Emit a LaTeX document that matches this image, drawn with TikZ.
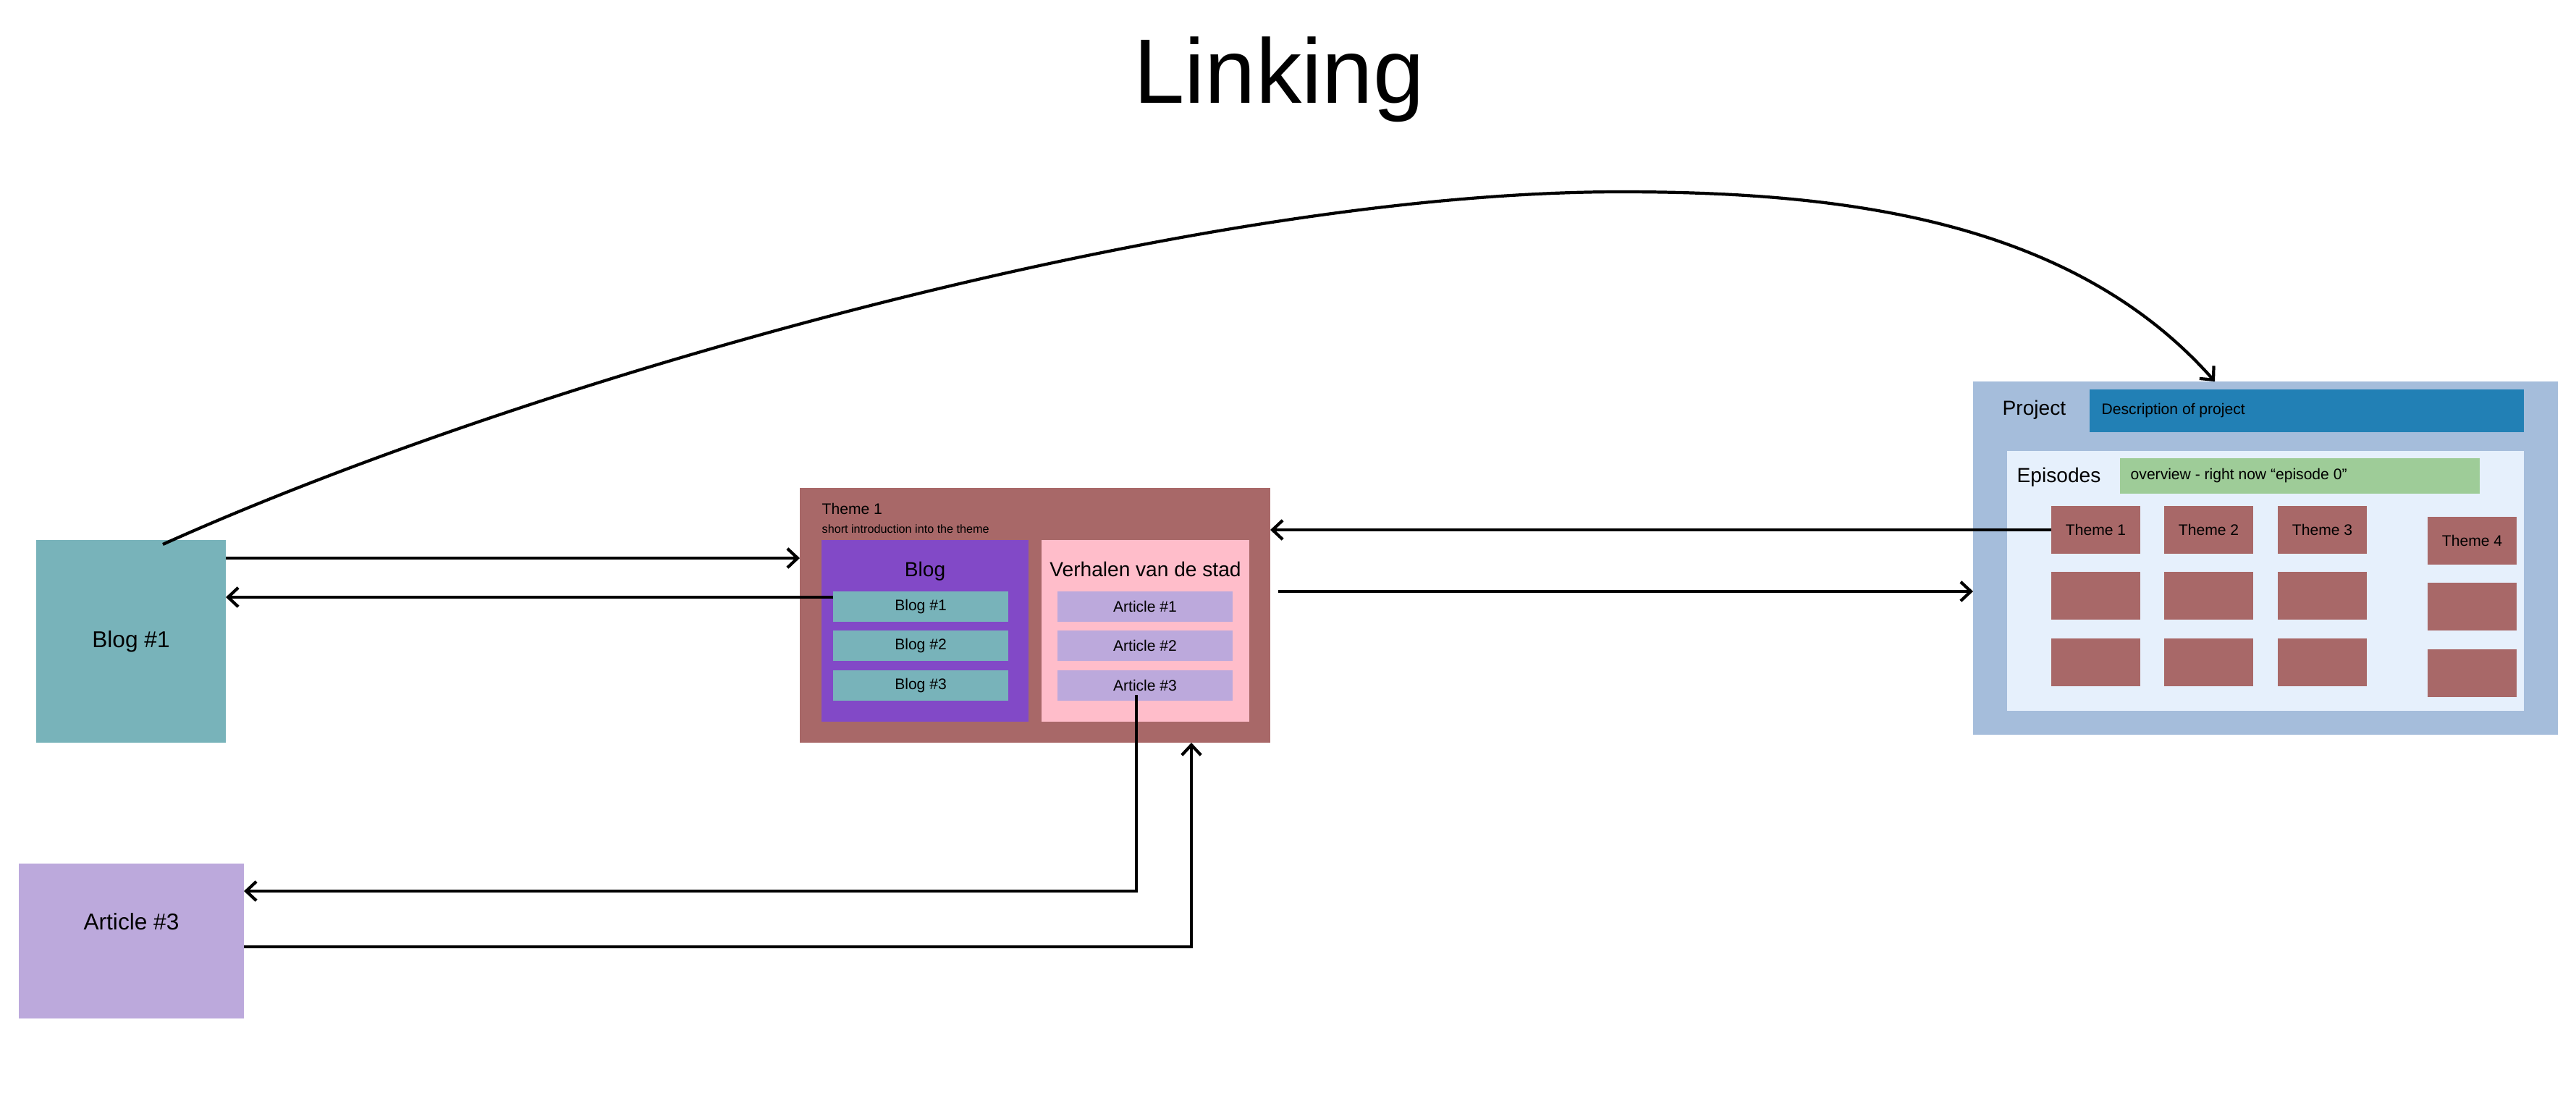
\documentclass[tikz,border=0pt]{standalone}
\usepackage{fontspec}
\setmainfont{Liberation Sans}
\usetikzlibrary{arrows.meta,calc}
\definecolor{tealbox}{RGB}{120,179,186}
\definecolor{lavbox}{RGB}{188,169,220}
\definecolor{maroonbox}{RGB}{168,104,104}
\definecolor{purplebox}{RGB}{130,73,199}
\definecolor{pinkbox}{RGB}{255,189,202}
\definecolor{projbox}{RGB}{165,189,219}
\definecolor{descbox}{RGB}{34,128,181}
\definecolor{epibox}{RGB}{230,240,252}
\definecolor{greenbox}{RGB}{158,204,152}
\newcommand\myfs[1]{\fontsize{#1}{#1}\selectfont}
\begin{document}
\begin{tikzpicture}[
  box/.style={draw=none, rectangle, inner sep=0pt, outer sep=0pt},
  arr/.style={line width=1.2pt, -{Straight Barb[length=4pt,width=7.5pt]}},
  item/.style={box, minimum width=2.42cm, minimum height=0.42cm, font=\myfs{6pt}},
  tile/.style={box, fill=maroonbox, minimum width=1.23cm, minimum height=0.66cm, font=\myfs{6pt}},
]
\useasboundingbox (0,0) rectangle (35.59,-15.20);
\fill[white] (0,0) rectangle (35.59,-15.20);

% title
\node[anchor=base, font=\myfs{36pt}] (title) at (17.67,-1.42) {Linking};

% left boxes
\node[box, fill=tealbox, minimum width=2.62cm, minimum height=2.80cm, font=\myfs{9pt}] (blogA) at (1.81,-8.86) {Blog \#1};
\node[box, fill=lavbox, minimum width=3.11cm, minimum height=2.14cm,
      label={[font=\myfs{9pt}, yshift=0.27cm]center:Article \#3}] (artA) at (1.815,-13.00) {};

% theme box
\node[box, fill=maroonbox, minimum width=6.50cm, minimum height=3.52cm] (theme) at (14.30,-8.50) {};
\node[anchor=base west, inner sep=0pt, font=\myfs{6pt}] (themeT) at (11.35,-7.10) {Theme 1};
\node[anchor=base west, inner sep=0pt, font=\myfs{4.6pt}] (themeS) at (11.35,-7.36) {short introduction into the theme};
\node[box, fill=purplebox, minimum width=2.86cm, minimum height=2.51cm] (blogP) at (12.78,-8.715) {};
\node[box, fill=pinkbox, minimum width=2.87cm, minimum height=2.51cm] (verP) at (15.825,-8.715) {};
\node[anchor=base, inner sep=0pt, font=\myfs{8pt}] (blogPT) at (12.78,-7.96) {Blog};
\node[anchor=base, inner sep=0pt, font=\myfs{8pt}] (verPT) at (15.825,-7.96) {Verhalen van de stad};
\node[item, fill=tealbox] (bi1) at (12.72,-8.38) {Blog \#1};
\node[item, fill=tealbox] (bi2) at (12.72,-8.92) {Blog \#2};
\node[item, fill=tealbox] (bi3) at (12.72,-9.47) {Blog \#3};
\node[item, fill=lavbox] (ai1) at (15.82,-8.38) {Article \#1};
\node[item, fill=lavbox] (ai2) at (15.82,-8.92) {Article \#2};
\node[item, fill=lavbox] (ai3) at (15.82,-9.47) {Article \#3};

% project box
\node[box, fill=projbox, minimum width=8.08cm, minimum height=4.88cm] (project) at (31.30,-7.71) {};
\node[box, fill=descbox, minimum width=6.00cm, minimum height=0.59cm] (desc) at (31.87,-5.675) {};
\node[anchor=west, inner sep=0pt, font=\myfs{8pt}] (projT) at (27.66,-5.66) {Project};
\node[anchor=west, inner sep=0pt, font=\myfs{6pt}] (descT) at (29.03,-5.675) {Description of project};
\node[box, fill=epibox, minimum width=7.14cm, minimum height=3.59cm] (epi) at (31.30,-8.025) {};
\node[box, fill=greenbox, minimum width=4.97cm, minimum height=0.49cm] (green) at (31.775,-6.575) {};
\node[anchor=west, inner sep=0pt, font=\myfs{8pt}] (epiT) at (27.86,-6.59) {Episodes};
\node[anchor=west, inner sep=0pt, font=\myfs{6pt}] (greenT) at (29.43,-6.575) {overview - right now “episode 0”};

\node[tile] (pt1) at (28.955,-7.32) {Theme 1};
\node[tile] (pt2) at (30.515,-7.32) {Theme 2};
\node[tile] (pt3) at (32.085,-7.32) {Theme 3};
\node[tile] (pt4) at (34.155,-7.465) {Theme 4};
\node[tile] (t21) at (28.955,-8.23) {};
\node[tile] (t22) at (30.515,-8.23) {};
\node[tile] (t23) at (32.085,-8.23) {};
\node[tile] (t24) at (34.155,-8.38) {};
\node[tile] (t31) at (28.955,-9.15) {};
\node[tile] (t32) at (30.515,-9.15) {};
\node[tile] (t33) at (32.085,-9.15) {};
\node[tile] (t34) at (34.155,-9.30) {};

% connectors
\draw[arr] ([yshift=1.15cm]blogA.east) -- ([yshift=1.15cm]blogA.east -| theme.west);
\draw[arr] ([yshift=0.13cm]bi1.west) -- ([yshift=0.13cm]bi1.west -| blogA.east);
\draw[arr] (pt1.west) -- (pt1.west -| theme.east);
\draw[arr] ([xshift=0.11cm,yshift=0.33cm]theme.east) -- ([yshift=0.33cm]theme.east -| project.west);
\draw[arr] ([xshift=-0.12cm,yshift=-0.13cm]ai3.center) |- ([yshift=0.69cm]artA.east);
\draw[arr] ([yshift=-0.08cm]artA.east) -| ([xshift=2.16cm]theme.south);
\coordinate (cs) at ([xshift=0.44cm,yshift=-0.06cm]blogA.north);
\coordinate (ce) at ([xshift=-0.70cm]project.north);
\draw[arr] (cs) .. controls (7.25,-5.27) and (16.39,-2.65) .. (22.39,-2.65)
           .. controls (25.39,-2.65) and (28.60,-3.01) .. (ce);
\end{tikzpicture}
\end{document}
